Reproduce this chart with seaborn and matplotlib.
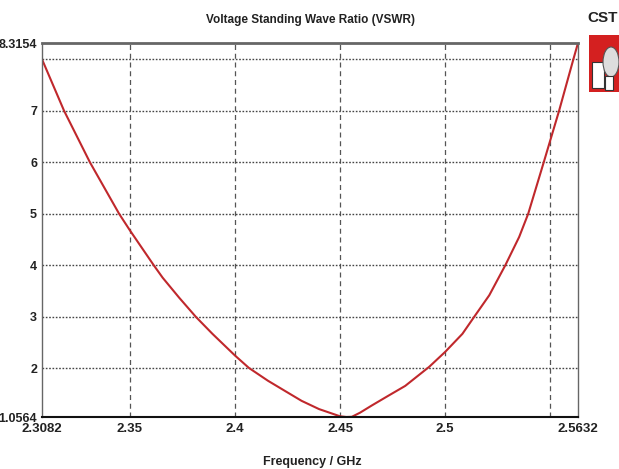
import matplotlib
matplotlib.use("Agg")
import matplotlib.pyplot as plt
import seaborn as sns
import pandas as pd
from matplotlib.patches import Rectangle, Ellipse

# Data
freq = [2.3082, 2.3187, 2.331, 2.3449, 2.35, 2.3614, 2.3656, 2.3735, 2.3814, 2.3893,
        2.40, 2.4066, 2.4157, 2.4243, 2.4317, 2.44, 2.45, 2.453, 2.4556, 2.4595,
        2.4651, 2.473, 2.481, 2.4924, 2.50, 2.5082, 2.5138, 2.521, 2.5286, 2.5352,
        2.5395, 2.5469, 2.5542, 2.5610, 2.5632]
vswr = [8.00, 7.0, 6.0, 5.0, 4.68, 4.0, 3.76, 3.37, 3.0, 2.67,
        2.25, 2.01, 1.76, 1.55, 1.37, 1.21, 1.07, 1.0564, 1.06, 1.14,
        1.28, 1.47, 1.66, 2.03, 2.32, 2.67, 3.0, 3.42, 4.0, 4.55,
        5.0, 6.0, 7.0, 8.0, 8.3154]

xticks = [2.3082, 2.35, 2.4, 2.45, 2.5, 2.55, 2.5632]
xticklabels = ["2.3082", "2.35", "2.4", "2.45", "2.5", "", "2.5632"]
yticks = [1.0564, 2, 3, 4, 5, 6, 7, 8, 8.3154]
yticklabels = ["1.0564", "2", "3", "4", "5", "6", "7", "", "8.3154"]

title = "Voltage Standing Wave Ratio (VSWR)"
xlabel = "Frequency / GHz"

sns.set_style("white")
plt.rcParams["font.family"] = ["Liberation Sans", "DejaVu Sans"]

df = pd.DataFrame({"Frequency": freq, "VSWR": vswr})

fig = plt.figure(figsize=(6.19, 4.69), dpi=100)
ax = fig.add_axes([42 / 619, 1 - 417 / 469, 536 / 619, 374 / 469])

sns.lineplot(data=df, x="Frequency", y="VSWR", ax=ax, color="#c0282c",
             linewidth=1.5, sort=True, estimator=None)

ax.set_xlim(2.3082, 2.5632)
ax.set_ylim(1.0564, 8.3154)

ax.set_xticks(xticks)
ax.set_xticklabels(xticklabels, fontsize=9.5, fontweight="bold", color="#222222")
ax.set_yticks(yticks)
ax.set_yticklabels(yticklabels, fontsize=9, fontweight="bold", color="#222222")

for xv in [2.35, 2.4, 2.45, 2.5, 2.55]:
    ax.axvline(xv, color="#555555", linestyle=(0, (4, 3)), linewidth=0.9, zorder=0)
for yv in [2, 3, 4, 5, 6, 7, 8]:
    ax.axhline(yv, color="#444444", linestyle=(0, (1.2, 1.2)), linewidth=1.0, zorder=0)

ax.tick_params(axis="y", length=3, width=1, color="#555555", pad=0.5)
ax.tick_params(axis="x", length=0, pad=4)

for side in ["left", "right"]:
    ax.spines[side].set_color("#666666")
    ax.spines[side].set_linewidth(1.0)
ax.spines["top"].set_color("#666666")
ax.spines["top"].set_linewidth(2.0)
ax.spines["bottom"].set_color("#111111")
ax.spines["bottom"].set_linewidth(1.5)

ax.set_xlabel("")
ax.set_ylabel("")

fig.text(310 / 619, 1 - 20 / 469, title, ha="center", va="center",
         fontsize=8.5, fontweight="bold", color="#222222")
fig.text(312 / 619, 1 - 462 / 469, xlabel, ha="center", va="center",
         fontsize=9, fontweight="bold", color="#222222")

# CST logo
fig.text(587 / 619, 1 - 18 / 469, "CST", ha="left", va="center",
         fontsize=11, fontweight="bold", color="#222222")
fig.add_artist(Rectangle((589 / 619, 1 - 92 / 469), 32 / 619, 57 / 469,
                         transform=fig.transFigure, facecolor="#d42020",
                         edgecolor="none"))
fig.add_artist(Rectangle((592 / 619, 1 - 88 / 469), 12 / 619, 26 / 469,
                         transform=fig.transFigure, facecolor="white",
                         edgecolor="#333333", linewidth=0.8))
fig.add_artist(Ellipse((611 / 619, 1 - 62 / 469), 16 / 619, 30 / 469,
                       transform=fig.transFigure, facecolor="#dddddd",
                       edgecolor="#555555", linewidth=0.8))
fig.add_artist(Rectangle((605 / 619, 1 - 90 / 469), 8 / 619, 14 / 469,
                         transform=fig.transFigure, facecolor="white",
                         edgecolor="#333333", linewidth=0.8))

fig.savefig("out.png", dpi=100, facecolor="white")
